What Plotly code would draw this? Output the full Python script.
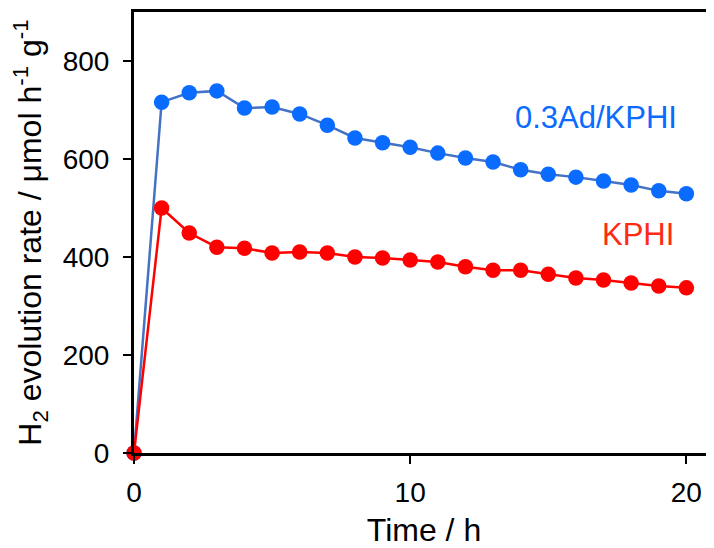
import plotly.graph_objects as go

time_h = list(range(0, 21))
ad_kphi = [0, 716, 735, 739, 704, 706, 692, 669, 643, 633, 624, 612, 602, 594, 578, 569, 563, 555, 547, 535, 529]
kphi = [0, 500, 449, 420, 418, 408, 410, 408, 400, 398, 394, 390, 380, 373, 373, 365, 357, 353, 347, 341, 337]

x_ticks = [0, 10, 20]
y_ticks = [0, 200, 400, 600, 800]

FONT = "Liberation Sans, Arial, sans-serif"

fig = go.Figure()
fig.add_trace(go.Scatter(
    x=time_h, y=ad_kphi, mode="lines+markers", name="0.3Ad/KPHI",
    line=dict(color="#4472C4", width=2.5),
    marker=dict(color="#0A6BFF", size=15.5),
    cliponaxis=False,
))
fig.add_trace(go.Scatter(
    x=time_h, y=kphi, mode="lines+markers", name="KPHI",
    line=dict(color="#FF0000", width=2.5),
    marker=dict(color="#FF0000", size=15.5),
    cliponaxis=False,
))

fig.add_annotation(x=16.72, y=684, xref="x", yref="y", text="0.3Ad/KPHI",
                   showarrow=False, font=dict(family=FONT, size=31, color="#0A6BFF"))
fig.add_annotation(x=18.25, y=445, xref="x", yref="y", text="KPHI",
                   showarrow=False, font=dict(family=FONT, size=31, color="#FF2A14"))

fig.update_layout(
    width=706, height=540,
    margin=dict(l=126, r=0, t=4, b=95),
    paper_bgcolor="white", plot_bgcolor="white",
    showlegend=False,
    font=dict(family=FONT, color="black"),
)
fig.update_xaxes(
    range=[0, 21], tickvals=x_ticks, ticks="outside", ticklen=8, tickwidth=2,
    tickcolor="black", showline=True, linecolor="black", linewidth=3,
    mirror=True, showgrid=False, zeroline=False, ticklabelstandoff=4,
    tickfont=dict(size=28, family=FONT, color="black"),
    title=dict(text="Time / h", font=dict(size=32, family=FONT, color="black"), standoff=15),
)
fig.update_yaxes(
    range=[0, 900], tickvals=y_ticks, ticks="outside", ticklen=8, tickwidth=2,
    tickcolor="black", showline=True, linecolor="black", linewidth=3,
    mirror=False, showgrid=False, zeroline=False, ticklabelstandoff=8,
    tickfont=dict(size=28, family=FONT, color="black"),
    title=dict(text="H<sub>2</sub> evolution rate / μmol h<sup>-1</sup> g<sup>-1</sup>",
               font=dict(size=32, family=FONT, color="black"), standoff=21),
)

fig.write_html("out.html")
